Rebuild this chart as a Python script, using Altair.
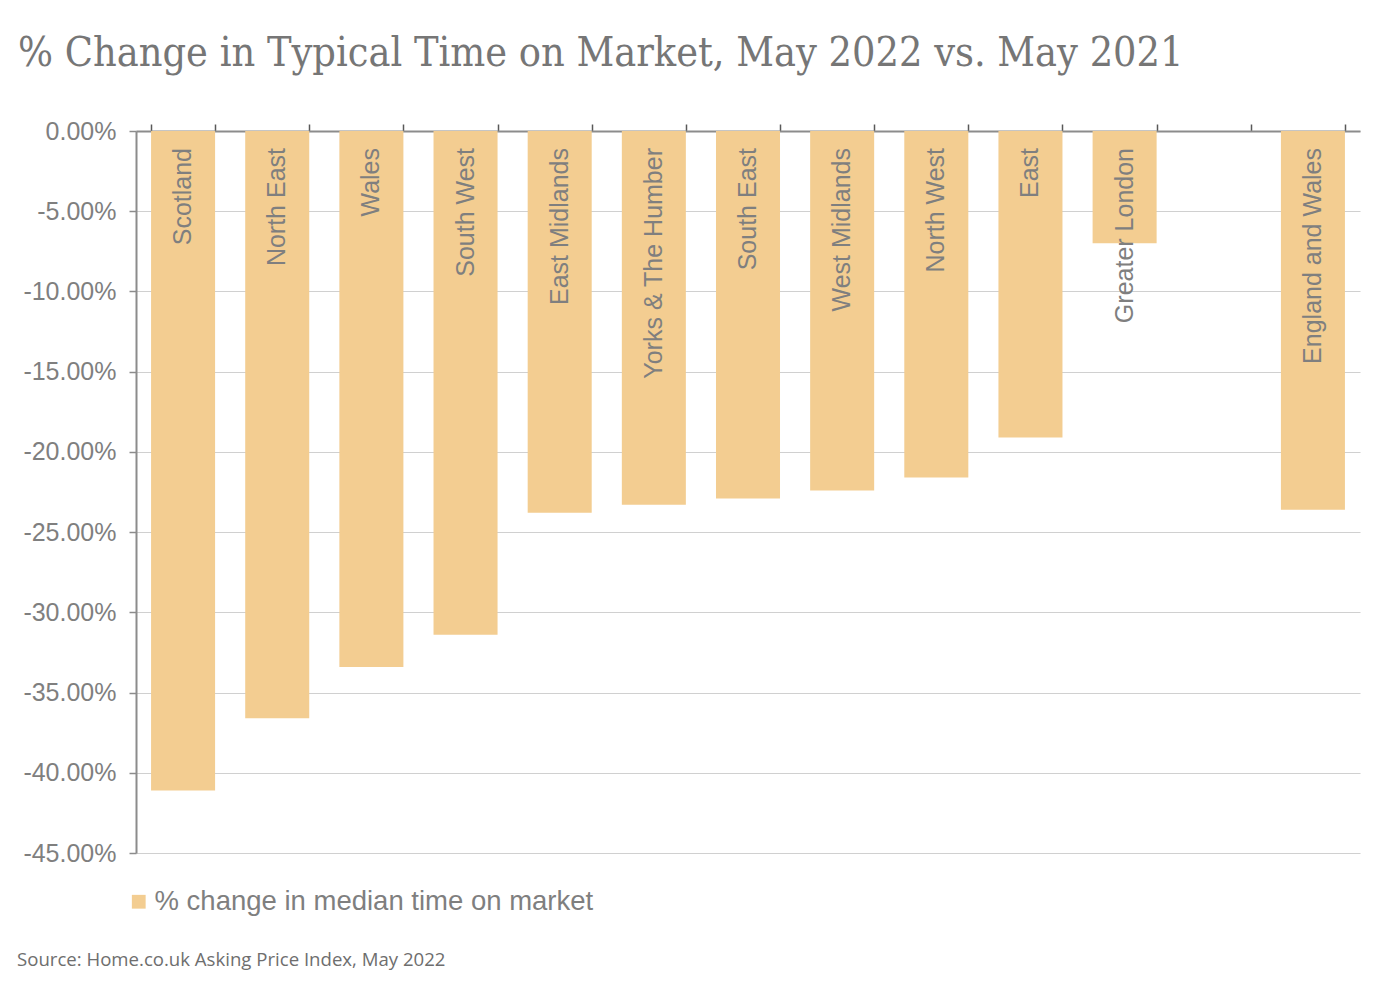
import altair as alt
import pandas as pd

# Regional % change in median time on market, May 2022 vs May 2021
regions = [
    "Scotland", "North East", "Wales", "South West", "East Midlands",
    "Yorks & The Humber", "South East", "West Midlands", "North West",
    "East", "Greater London", "England and Wales",
]
changes = [-41.1, -36.6, -33.4, -31.4, -23.8, -23.3, -22.9, -22.4, -21.6, -19.1, -7.0, -23.6]

# an empty slot separates the regions from the national figure
x_domain = regions[:11] + [" "] + regions[11:]
y_ticks = [0, -5, -10, -15, -20, -25, -30, -35, -40, -45]

series_name = "% change in median time on market"
bar_color = "#F3CD91"
grey = "#7f7f7f"

df = pd.DataFrame({"region": regions, "change": changes, "series": series_name, "zero": 0})

x_enc = alt.X(
    "region:N",
    sort=x_domain,
    scale=alt.Scale(domain=x_domain, paddingInner=0.32, paddingOuter=0.16),
    axis=alt.Axis(
        orient="top", labels=False, title=None, tickBand="extent",
        domainColor="#8c8c8c", domainWidth=2, tickColor="#595959",
        tickSize=7, tickWidth=1.5, grid=False,
    ),
)

y_scale = alt.Scale(domain=[-45, 0], nice=False)

bars = alt.Chart(df).mark_bar(color=bar_color).encode(
    x=x_enc,
    y=alt.Y(
        "change:Q",
        scale=y_scale,
        axis=alt.Axis(
            values=y_ticks, title=None,
            labelExpr="(datum.value < 0 ? '-' : '') + format(abs(datum.value), '.2f') + '%'",
            labelFont="Liberation Sans", labelFontSize=25, labelColor=grey,
            labelPadding=13, domainColor="#8c8c8c", domainWidth=2,
            tickColor="#8c8c8c", tickSize=7, tickWidth=1.5,
            grid=True, gridColor="#d0d0d0", gridWidth=1.2,
        ),
    ),
    color=alt.Color(
        "series:N",
        scale=alt.Scale(range=[bar_color]),
        legend=alt.Legend(
            title=None, orient="none", legendX=-11, legendY=757,
            symbolType="square", symbolSize=190, symbolStrokeWidth=0,
            labelFont="Liberation Sans", labelFontSize=27.5, labelColor=grey,
            labelOffset=2, labelLimit=0,
        ),
    ),
)

labels = alt.Chart(df).mark_text(
    angle=270, align="right", baseline="middle", dx=-17,
    font="Liberation Sans", fontSize=25, color=grey,
).encode(
    x=alt.X("region:N", sort=x_domain),
    y=alt.Y("zero:Q", scale=y_scale),
    text="region:N",
)

source = alt.Chart(pd.DataFrame({"t": ["Source: Home.co.uk Asking Price Index, May 2022"]})).mark_text(
    align="left", baseline="middle", font="Open Sans", fontSize=18.6, color="#6e6e6e",
).encode(
    x=alt.value(-119),
    y=alt.value(829),
    text="t:N",
)

chart = (
    alt.layer(bars, labels, source)
    .properties(
        width=1224,
        height=722,
        autosize=alt.AutoSizeParams(type="none"),
        padding={"left": 136, "top": 131, "right": 19, "bottom": 135},
        background="white",
        title=alt.TitleParams(
            "% Change in Typical Time on Market, May 2022 vs. May 2021",
            anchor="start", frame="group", dx=-118, dy=51, offset=63,
            baseline="alphabetic",
            font="DejaVu Serif Condensed", fontSize=41, fontWeight="normal",
            color="#767676",
        ),
    )
    .configure_view(stroke=None)
)

chart.save("out.html", embed_options={"renderer": "svg", "actions": False})
